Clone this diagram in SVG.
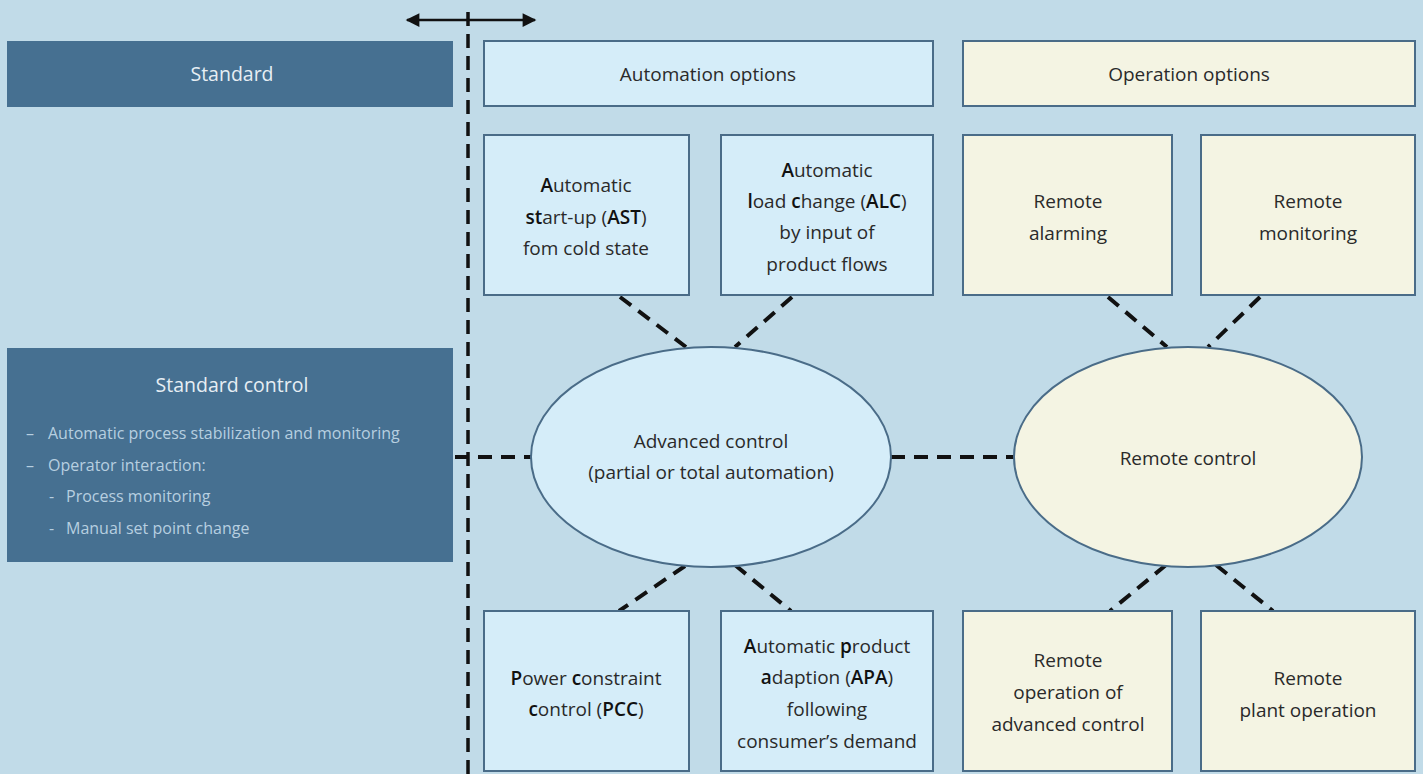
<svg xmlns="http://www.w3.org/2000/svg" width="1423" height="774" viewBox="0 0 1423 774">
  <style>
    text { font-family: "Open Sans", "Liberation Sans", sans-serif; text-anchor: middle; }
    .dark { fill: #467091; }
    .blue { fill: #d5edf9; stroke: #4a6c88; stroke-width: 2; }
    .cream { fill: #f4f4e3; stroke: #4a6c88; stroke-width: 2; }
    .lbl { font-size: 19px; fill: #2a2a2a; }
    .b { font-weight: 600; fill: #111; }
    .hdr { font-size: 19px; fill: #2a2a2a; }
    .wh { font-size: 19.5px; fill: #e6eef4; }
    .item { font-size: 16px; fill: #b7cfe0; text-anchor: start; }
    .dash { stroke: #111; stroke-width: 4; stroke-dasharray: 14 9; fill: none; }
  </style>
  <defs>
    <marker id="head" viewBox="0 0 10 10" refX="9" refY="5" markerWidth="8" markerHeight="5.5" markerUnits="strokeWidth" orient="auto-start-reverse">
      <path d="M0,0 L10,5 L0,10 z" fill="#111"/>
    </marker>
  </defs>

  <rect width="1423" height="774" fill="#c1dbe8"/>

  <!-- divider between standard and optional scope -->
  <g id="divider">
    <line x1="468" y1="12" x2="468" y2="774" stroke="#111" stroke-width="3.5" stroke-dasharray="14 8"/>
    <line x1="407" y1="20" x2="535" y2="20" stroke="#111" stroke-width="2.5" marker-start="url(#head)" marker-end="url(#head)"/>
  </g>

  <!-- connectors -->
  <g id="connectors">
    <line class="dash" x1="455" y1="457" x2="531" y2="457"/>
    <line class="dash" x1="891" y1="457" x2="1015" y2="457"/>
    <line class="dash" x1="620" y1="297" x2="686" y2="347"/>
    <line class="dash" x1="792" y1="297" x2="735" y2="347"/>
    <line class="dash" x1="1108" y1="297" x2="1167" y2="347"/>
    <line class="dash" x1="1260" y1="297" x2="1208" y2="347"/>
    <line class="dash" x1="685" y1="566" x2="619" y2="611"/>
    <line class="dash" x1="735" y1="565" x2="791" y2="611"/>
    <line class="dash" x1="1166" y1="565" x2="1110" y2="611"/>
    <line class="dash" x1="1216" y1="565" x2="1273" y2="611"/>
  </g>

  <!-- column headers -->
  <g id="hdr-standard">
    <rect class="dark" x="7" y="41" width="446" height="66"/>
    <text class="wh" x="232" y="81">Standard</text>
  </g>
  <g id="hdr-automation">
    <rect class="blue" x="484" y="41" width="449" height="65"/>
    <text class="hdr" x="708" y="81">Automation options</text>
  </g>
  <g id="hdr-operation">
    <rect class="cream" x="963" y="41" width="452" height="65"/>
    <text class="hdr" x="1189" y="81">Operation options</text>
  </g>

  <!-- standard control -->
  <g id="standard-control">
    <rect class="dark" x="7" y="348" width="446" height="214"/>
    <text class="wh" x="232" y="392">Standard control</text>
    <text class="item" x="26" y="439">–</text>
    <text class="item" x="48" y="439">Automatic process stabilization and monitoring</text>
    <text class="item" x="26" y="471">–</text>
    <text class="item" x="48" y="471">Operator interaction:</text>
    <text class="item" x="49" y="502">-</text>
    <text class="item" x="66" y="502">Process monitoring</text>
    <text class="item" x="49" y="534">-</text>
    <text class="item" x="66" y="534">Manual set point change</text>
  </g>

  <!-- automation options -->
  <g id="ast">
    <rect class="blue" x="484" y="135" width="205" height="160"/>
    <text class="lbl" x="586" y="192"><tspan class="b">A</tspan>utomatic</text>
    <text class="lbl" x="586" y="224"><tspan class="b">st</tspan>art-up (<tspan class="b">AST</tspan>)</text>
    <text class="lbl" x="586" y="255">fom cold state</text>
  </g>
  <g id="alc">
    <rect class="blue" x="721" y="135" width="212" height="160"/>
    <text class="lbl" x="827" y="177"><tspan class="b">A</tspan>utomatic</text>
    <text class="lbl" x="827" y="208"><tspan class="b">l</tspan>oad <tspan class="b">c</tspan>hange (<tspan class="b">ALC</tspan>)</text>
    <text class="lbl" x="827" y="239">by input of</text>
    <text class="lbl" x="827" y="271">product flows</text>
  </g>
  <g id="advanced-control">
    <ellipse cx="711" cy="457" rx="180" ry="110" fill="#d5edf9" stroke="#4a6c88" stroke-width="2"/>
    <text class="lbl" x="711" y="448">Advanced control</text>
    <text class="lbl" x="711" y="479">(partial or total automation)</text>
  </g>
  <g id="pcc">
    <rect class="blue" x="484" y="611" width="205" height="160"/>
    <text class="lbl" x="586" y="685"><tspan class="b">P</tspan>ower <tspan class="b">c</tspan>onstraint</text>
    <text class="lbl" x="586" y="716"><tspan class="b">c</tspan>ontrol (<tspan class="b">PCC</tspan>)</text>
  </g>
  <g id="apa">
    <rect class="blue" x="721" y="611" width="212" height="160"/>
    <text class="lbl" x="827" y="653"><tspan class="b">A</tspan>utomatic <tspan class="b">p</tspan>roduct</text>
    <text class="lbl" x="827" y="684"><tspan class="b">a</tspan>daption (<tspan class="b">APA</tspan>)</text>
    <text class="lbl" x="827" y="716">following</text>
    <text class="lbl" x="827" y="748">consumer’s demand</text>
  </g>

  <!-- operation options -->
  <g id="remote-alarming">
    <rect class="cream" x="963" y="135" width="209" height="160"/>
    <text class="lbl" x="1068" y="208">Remote</text>
    <text class="lbl" x="1068" y="240">alarming</text>
  </g>
  <g id="remote-monitoring">
    <rect class="cream" x="1201" y="135" width="214" height="160"/>
    <text class="lbl" x="1308" y="208">Remote</text>
    <text class="lbl" x="1308" y="240">monitoring</text>
  </g>
  <g id="remote-control">
    <ellipse cx="1188" cy="457" rx="174" ry="110" fill="#f4f4e3" stroke="#4a6c88" stroke-width="2"/>
    <text class="lbl" x="1188" y="465">Remote control</text>
  </g>
  <g id="remote-operation-advanced">
    <rect class="cream" x="963" y="611" width="209" height="160"/>
    <text class="lbl" x="1068" y="667">Remote</text>
    <text class="lbl" x="1068" y="699">operation of</text>
    <text class="lbl" x="1068" y="731">advanced control</text>
  </g>
  <g id="remote-plant-operation">
    <rect class="cream" x="1201" y="611" width="214" height="160"/>
    <text class="lbl" x="1308" y="685">Remote</text>
    <text class="lbl" x="1308" y="717">plant operation</text>
  </g>
</svg>
